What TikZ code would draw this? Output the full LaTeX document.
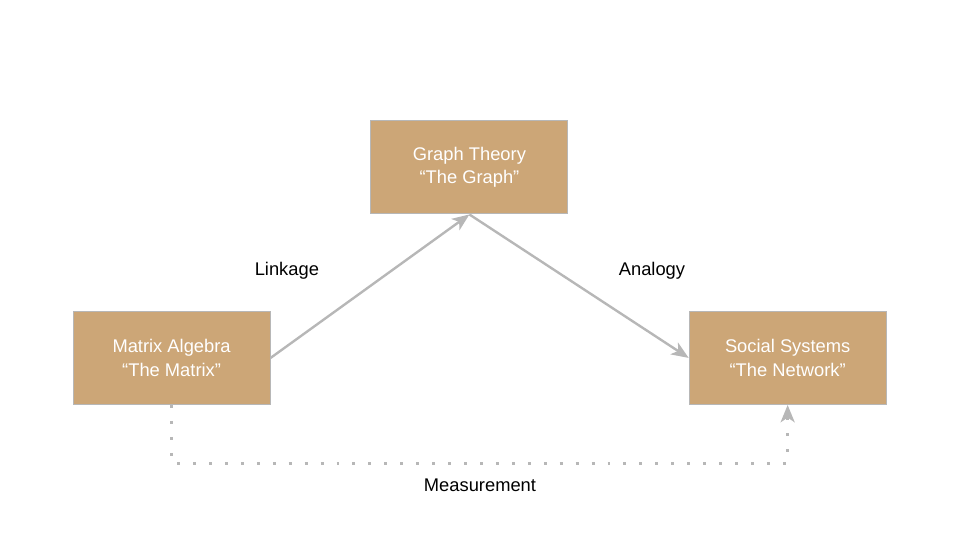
\documentclass[tikz,border=0pt]{standalone}
\usepackage{fontspec}
\setmainfont{Liberation Sans}
\usepackage{xcolor}
\usetikzlibrary{arrows.meta,positioning,calc}
\definecolor{tan}{HTML}{CCA677}
\definecolor{edgegray}{HTML}{B7B7B7}
\tikzset{
  >={Stealth[length=13pt,width=10.5pt,inset=3.5pt]},
  field/.style ={rectangle, draw=edgegray, fill=tan, line width=0.8pt,
                 minimum width=5.21cm, minimum height=2.46cm,
                 text=white, font=\fontsize{13.8}{17.5}\selectfont, align=center},
  con/.style   ={->, draw=edgegray, line width=1.8pt},
  meas/.style  ={->, draw=edgegray, line width=2.2pt,
                 dash pattern=on 2.2pt off 9.8pt},
  lbl/.style   ={font=\fontsize{13.8}{16}\selectfont, text=black},
}
\begin{document}
\begin{tikzpicture}
\useasboundingbox (0,0) rectangle (25.4,-14.2875);
\node[field] (graph)  at (12.42,-4.43) {Graph Theory\\``The Graph''};
\node[field] (matrix) at (4.54,-9.47)  {Matrix Algebra\\``The Matrix''};
\node[field] (social) at (20.84,-9.47) {Social Systems\\``The Network''};
\draw[con] (matrix.east) -- (graph.south);
\draw[con] (graph.south) -- (social.west);
\draw[meas] (matrix.south) -- ++(0,-1.54) -| (social.south);
\node[lbl] (linkage) at (7.59,-7.17)  {Linkage};
\node[lbl] (analogy) at (17.25,-7.17) {Analogy};
\node[lbl] (measure) at (12.70,-12.83) {Measurement};
\end{tikzpicture}
\end{document}
